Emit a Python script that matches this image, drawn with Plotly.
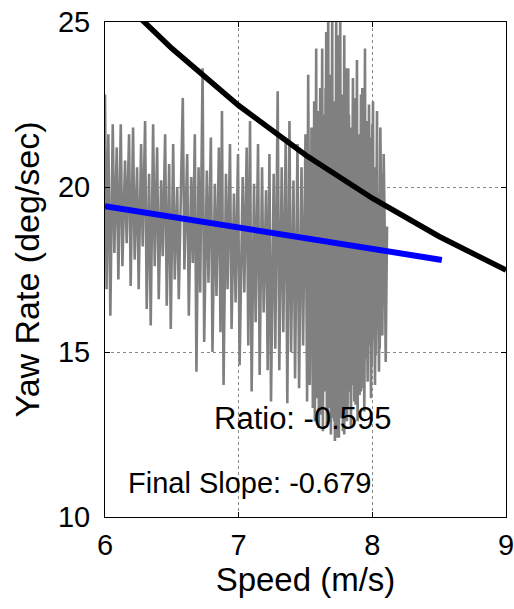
import plotly.graph_objects as go

speed_meas = [
    6.000, 6.012, 6.025, 6.040, 6.058, 6.070, 6.088, 6.100, 6.118, 6.130, 6.150, 6.162,
    6.180, 6.192, 6.210, 6.222, 6.240, 6.252, 6.270, 6.282, 6.300, 6.312, 6.330, 6.342,
    6.360, 6.372, 6.390, 6.402, 6.420, 6.432, 6.450, 6.462, 6.480, 6.492, 6.510, 6.522,
    6.540, 6.552, 6.582, 6.594, 6.615, 6.627, 6.645, 6.657, 6.672, 6.684, 6.700, 6.712,
    6.730, 6.742, 6.762, 6.774, 6.792, 6.804, 6.822, 6.834, 6.852, 6.864, 6.875, 6.887,
    6.905, 6.917, 6.935, 6.947, 6.965, 6.977, 6.995, 7.007, 7.030, 7.042, 7.060, 7.072,
    7.085, 7.097, 7.115, 7.127, 7.145, 7.157, 7.175, 7.187, 7.205, 7.217, 7.230, 7.242,
    7.262, 7.274, 7.292, 7.304, 7.322, 7.334, 7.352, 7.364, 7.380, 7.392, 7.410, 7.422,
    7.440, 7.452, 7.470, 7.482, 7.500, 7.512, 7.520, 7.532, 7.545, 7.555,
    7.565, 7.570, 7.580, 7.585, 7.595, 7.600, 7.610, 7.615, 7.625, 7.630, 7.640, 7.645,
    7.655, 7.660, 7.670, 7.675, 7.685, 7.690, 7.700, 7.705, 7.715, 7.720, 7.730, 7.735,
    7.745, 7.750, 7.760, 7.765, 7.775, 7.780, 7.790, 7.795, 7.805, 7.810, 7.820, 7.825,
    7.835, 7.840, 7.855, 7.860, 7.870, 7.875, 7.885, 7.890, 7.900, 7.905, 7.915, 7.920,
    7.930, 7.935, 7.945, 7.950, 7.960, 7.965, 7.975, 7.980, 7.990, 7.995, 8.005, 8.010,
    8.020, 8.025, 8.035, 8.040, 8.050, 8.055, 8.070, 8.075, 8.090, 8.100, 8.110, 8.100,
    8.085, 8.075, 8.060, 8.050, 8.030, 8.020, 8.000, 7.990, 7.975, 7.965, 7.950, 7.940,
    7.925, 7.915, 7.900, 7.890, 7.875, 7.865, 7.850, 7.840, 7.825, 7.815, 7.800, 7.790,
    7.775, 7.765, 7.750, 7.740, 7.725, 7.715, 7.700, 7.690, 7.675, 7.665, 7.650, 7.640,
    7.625, 7.615, 7.600, 7.590, 7.575, 7.565,
]
yaw_meas = [
    22.8, 16.9, 21.6, 16.1, 21.9, 18.0, 21.2, 17.2, 21.9, 17.6, 20.8, 18.3,
    21.6, 17.0, 21.8, 17.8, 20.6, 16.9, 21.3, 18.2, 22.0, 16.3, 20.4, 15.8,
    21.9, 17.6, 21.2, 16.6, 20.2, 17.9, 21.6, 16.4, 20.7, 15.7, 21.3, 17.2,
    20.0, 16.6, 22.7, 17.5, 21.0, 16.1, 20.3, 17.7, 21.6, 14.4, 20.6, 16.8,
    23.6, 15.3, 20.5, 17.1, 21.5, 15.0, 20.1, 16.7, 21.2, 15.6, 22.3, 14.0,
    20.4, 16.9, 21.3, 15.7, 19.8, 16.5, 21.0, 14.6, 20.3, 16.8, 21.2, 15.2,
    22.0, 13.8, 20.1, 15.9, 21.3, 14.3, 20.6, 16.2, 19.9, 14.45, 21.0, 13.5,
    20.4, 15.1, 22.9, 14.45, 20.6, 15.6, 21.5, 13.45, 22.0, 15.0, 20.2, 14.2,
    21.3, 13.9, 20.6, 15.2, 21.6, 13.5, 23.4, 14.0, 21.8, 13.3,
    22.6, 12.9, 24.2, 13.6, 21.6, 12.7, 23.0, 13.4, 24.2, 12.6, 22.2, 13.8,
    24.7, 12.8, 25.5, 13.3, 23.4, 12.5, 25.5, 13.0, 22.6, 12.3, 25.5, 13.5,
    24.0, 12.4, 25.5, 13.1, 22.8, 12.6, 24.6, 13.6, 22.0, 12.9, 23.6, 13.8,
    21.8, 13.2, 23.3, 14.0, 22.4, 13.4, 23.85, 14.2, 21.6, 13.7, 22.8, 14.5,
    21.2, 13.9, 24.2, 14.8, 22.0, 14.3, 20.8, 15.2, 21.5, 14.6, 22.6, 15.4,
    20.6, 14.9, 22.3, 15.8, 19.8, 15.1, 20.4, 16.0, 19.6, 14.7, 18.8, 16.5,
    21.0, 15.5, 21.8, 14.4, 20.6, 14.0, 21.9, 13.6, 22.5, 14.1, 20.9, 13.2,
    23.0, 13.8, 21.4, 12.9, 22.7, 13.5, 20.8, 12.7, 22.2, 13.3, 23.6, 12.5,
    21.2, 13.0, 24.6, 12.4, 20.9, 12.9, 22.6, 13.6, 21.0, 12.8, 23.0, 13.9,
    20.6, 13.1, 22.3, 14.2, 20.4, 13.6,
]

# Black reference curve
speed_ref = [6.25, 6.50, 7.00, 7.36, 7.50, 8.00, 8.50, 9.00]
yaw_ref = [25.17, 24.20, 22.47, 21.37, 20.97, 19.66, 18.50, 17.48]

# Blue fitted line
speed_fit = [6.00, 8.52]
yaw_fit = [19.42, 17.79]

x_ticks = [6, 7, 8, 9]
y_ticks = [10, 15, 20, 25]

FONT = "Liberation Sans, Arial, Helvetica, sans-serif"

fig = go.Figure()
fig.add_trace(go.Scatter(x=speed_meas, y=yaw_meas, mode="lines",
                         line=dict(color="rgb(128,128,128)", width=2.6),
                         showlegend=False, hoverinfo="skip"))
fig.add_trace(go.Scatter(x=speed_ref, y=yaw_ref, mode="lines",
                         line=dict(color="black", width=5.5),
                         showlegend=False))
fig.add_trace(go.Scatter(x=speed_fit, y=yaw_fit, mode="lines",
                         line=dict(color="rgb(0,0,255)", width=6),
                         showlegend=False))

fig.add_annotation(x=7.48, y=12.97, xref="x", yref="y", text="Ratio: -0.595",
                   showarrow=False, font=dict(family=FONT, size=31, color="black"))
fig.add_annotation(x=7.08, y=11.03, xref="x", yref="y", text="Final Slope: -0.679",
                   showarrow=False, font=dict(family=FONT, size=29, color="black"))

axis_common = dict(
    showline=True, linecolor="black", linewidth=1, mirror="ticks",
    ticks="inside", ticklen=5, tickcolor="black",
    showgrid=True, gridcolor="#888", griddash="dot", gridwidth=1,
    zeroline=False, tickfont=dict(family=FONT, size=29, color="black"),
    ticklabeloverflow="allow",
)

fig.update_xaxes(range=[6, 9], tickvals=x_ticks, ticktext=[str(v) for v in x_ticks],
                 ticklabelstandoff=2,
                 title=dict(text="Speed (m/s)", font=dict(family=FONT, size=33, color="black"),
                            standoff=4),
                 **axis_common)
fig.update_yaxes(range=[10, 25], tickvals=y_ticks, ticktext=[str(v) for v in y_ticks],
                 ticklabelstandoff=8,
                 title=dict(text="Yaw Rate (deg/sec)", font=dict(family=FONT, size=34, color="black"),
                            standoff=8),
                 **axis_common)

fig.update_layout(
    width=514, height=609,
    margin=dict(l=105, r=8, t=22, b=92, autoexpand=False),
    paper_bgcolor="white", plot_bgcolor="white",
    font=dict(family=FONT, color="black"),
)

fig.write_html("out.html", config={"displayModeBar": False},
               post_script="document.body.style.margin='0';")
